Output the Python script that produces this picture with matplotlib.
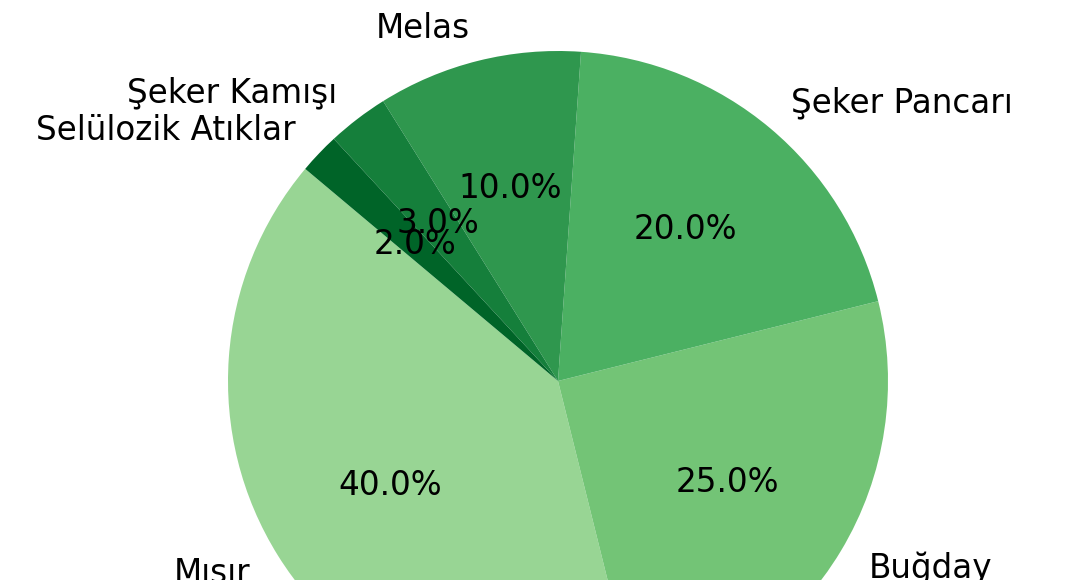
import numpy as np
import matplotlib
matplotlib.use("Agg")
import matplotlib.pyplot as plt

# Data
labels = ['Mısır', 'Buğday', 'Şeker Pancarı', 'Melas', 'Şeker Kamışı', 'Selülozik Atıklar']
shares = [40, 25, 20, 10, 3, 2]

colors = plt.cm.Greens(np.linspace(0.4, 0.9, len(shares)))

fig = plt.figure(figsize=(10.68, 5.8), dpi=100)
ax = fig.add_axes([0, 0, 1, 1])

ax.pie(shares, labels=labels, colors=colors, autopct='%1.1f%%',
       startangle=140, textprops={'fontsize': 23.5})

# pie is larger than the canvas: radius 330 px, centre at (558, 381)
r = 330.0
ax.set_xlim(-558 / r, (1068 - 558) / r)
ax.set_ylim(-(580 - 381) / r, 381 / r)
ax.set_aspect('equal')
ax.axis('off')

fig.savefig('out.png', dpi=100)
